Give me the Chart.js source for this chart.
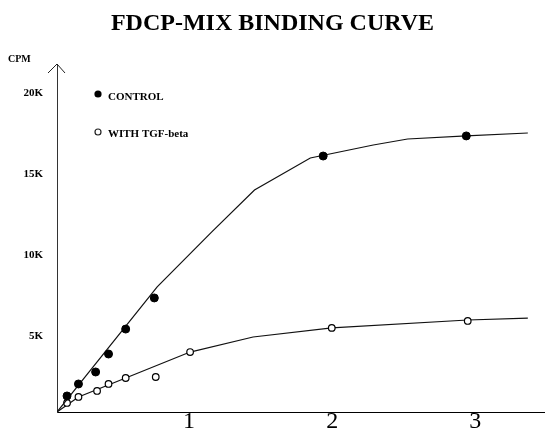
<!DOCTYPE html>
<html>
<head>
<meta charset="utf-8">
<script src="https://cdn.jsdelivr.net/npm/chart.js@4/dist/chart.umd.min.js"></script>
<style>
  html, body { margin: 0; padding: 0; background: #fff; }
  #wrap { width: 545px; height: 433px; }
</style>
</head>
<body>
<div id="wrap"><canvas id="chart" width="545" height="433"></canvas></div>
<script>
// values (x in plot units, y in CPM)
const controlX = [0.07, 0.15, 0.27, 0.36, 0.48, 0.68, 1.86, 2.86];
const controlY = [990, 1730, 2470, 3580, 5120, 7040, 15800, 17040];
const tgfX = [0.07, 0.15, 0.28, 0.36, 0.48, 0.69, 0.93, 1.92, 2.87];
const tgfY = [560, 930, 1300, 1730, 2100, 2160, 3700, 5190, 5620];

// hand drawn fit curves
const controlFitX = [0, 0.70, 1.08, 1.38, 1.77, 2.21, 2.45, 2.86, 3.29];
const controlFitY = [0, 7720, 11100, 13700, 15680, 16480, 16850, 17040, 17220];
const tgfFitX = [0, 0.15, 0.48, 0.93, 1.37, 1.92, 2.87, 3.29];
const tgfFitY = [0, 930, 2100, 3700, 4630, 5190, 5680, 5800];

const xTickValues = [1, 2, 3];
const yTickValues = [5000, 10000, 15000, 20000];
const seriesNames = ["CONTROL", "WITH TGF-beta"];

const pts = (xs, ys) => xs.map((x, i) => ({ x: x, y: ys[i] }));

const serif = "'Liberation Serif', 'DejaVu Serif', serif";

// arrow on the y axis, CPM label and the little legend inside the plot
const decor = {
  id: "decor",
  afterDraw(chart) {
    const ctx = chart.ctx;
    const area = chart.chartArea;
    const x0 = area.left;
    ctx.save();
    ctx.strokeStyle = "#222";
    ctx.lineWidth = 1;
    ctx.beginPath();
    ctx.moveTo(x0 - 9, area.top + 9);
    ctx.lineTo(x0, area.top);
    ctx.lineTo(x0 + 8, area.top + 9);
    ctx.stroke();

    ctx.fillStyle = "#000";
    ctx.font = "bold 10px " + serif;
    ctx.textBaseline = "middle";
    ctx.textAlign = "left";
    ctx.fillText("CPM", 8, 59);

    // legend
    ctx.font = "bold 11px " + serif;
    ctx.beginPath();
    ctx.arc(98, 94, 3.6, 0, Math.PI * 2);
    ctx.fill();
    ctx.fillText(seriesNames[0], 108, 97);

    ctx.beginPath();
    ctx.arc(98, 132, 3, 0, Math.PI * 2);
    ctx.lineWidth = 1.2;
    ctx.stroke();
    ctx.fillText(seriesNames[1], 108, 134);
    ctx.restore();
  }
};

new Chart(document.getElementById("chart"), {
  type: "scatter",
  data: {
    datasets: [
      {
        label: seriesNames[0],
        data: pts(controlX, controlY),
        pointRadius: 4,
        pointBackgroundColor: "#000",
        pointBorderColor: "#000",
        showLine: false
      },
      {
        label: seriesNames[0] + " fit",
        data: pts(controlFitX, controlFitY),
        showLine: true,
        borderColor: "#111",
        borderWidth: 1.2,
        pointRadius: 0,
        tension: 0
      },
      {
        label: seriesNames[1],
        data: pts(tgfX, tgfY),
        pointRadius: 3.3,
        pointBackgroundColor: "#fff",
        pointBorderColor: "#000",
        pointBorderWidth: 1.2,
        showLine: false
      },
      {
        label: seriesNames[1] + " fit",
        data: pts(tgfFitX, tgfFitY),
        showLine: true,
        borderColor: "#111",
        borderWidth: 1.2,
        pointRadius: 0,
        tension: 0
      }
    ]
  },
  options: {
    responsive: false,
    animation: false,
    devicePixelRatio: 1,
    layout: { padding: 0, autoPadding: false },
    plugins: {
      legend: { display: false },
      tooltip: { enabled: false },
      title: {
        display: true,
        text: "FDCP-MIX BINDING CURVE",
        color: "#000",
        font: { family: serif, size: 24, weight: "bold" },
        padding: { top: 9, bottom: 26.2 }
      }
    },
    scales: {
      x: {
        type: "linear",
        min: 0,
        max: 3.41,
        afterFit: (s) => { s.height = 21; s.paddingLeft = 0; s.paddingRight = 0; },
        afterBuildTicks: (s) => { s.ticks = xTickValues.map((v) => ({ value: v })); },
        grid: { display: false, drawTicks: false },
        border: { display: true, color: "#000", width: 1 },
        ticks: {
          color: "#000",
          padding: -5,
          labelOffset: -11,
          font: { family: serif, size: 24 },
          callback: (v) => String(v)
        }
      },
      y: {
        min: 0,
        max: 21480,
        afterFit: (s) => { s.width = 57; s.paddingTop = 0; s.paddingBottom = 0; },
        afterBuildTicks: (s) => { s.ticks = yTickValues.map((v) => ({ value: v })); },
        grid: { display: false, drawTicks: false },
        border: { display: true, color: "#333", width: 1 },
        ticks: {
          color: "#000",
          padding: 14,
          labelOffset: 5,
          font: { family: serif, size: 11, weight: "bold" },
          callback: (v) => (v / 1000) + "K"
        }
      }
    }
  },
  plugins: [decor]
});
</script>
</body>
</html>
